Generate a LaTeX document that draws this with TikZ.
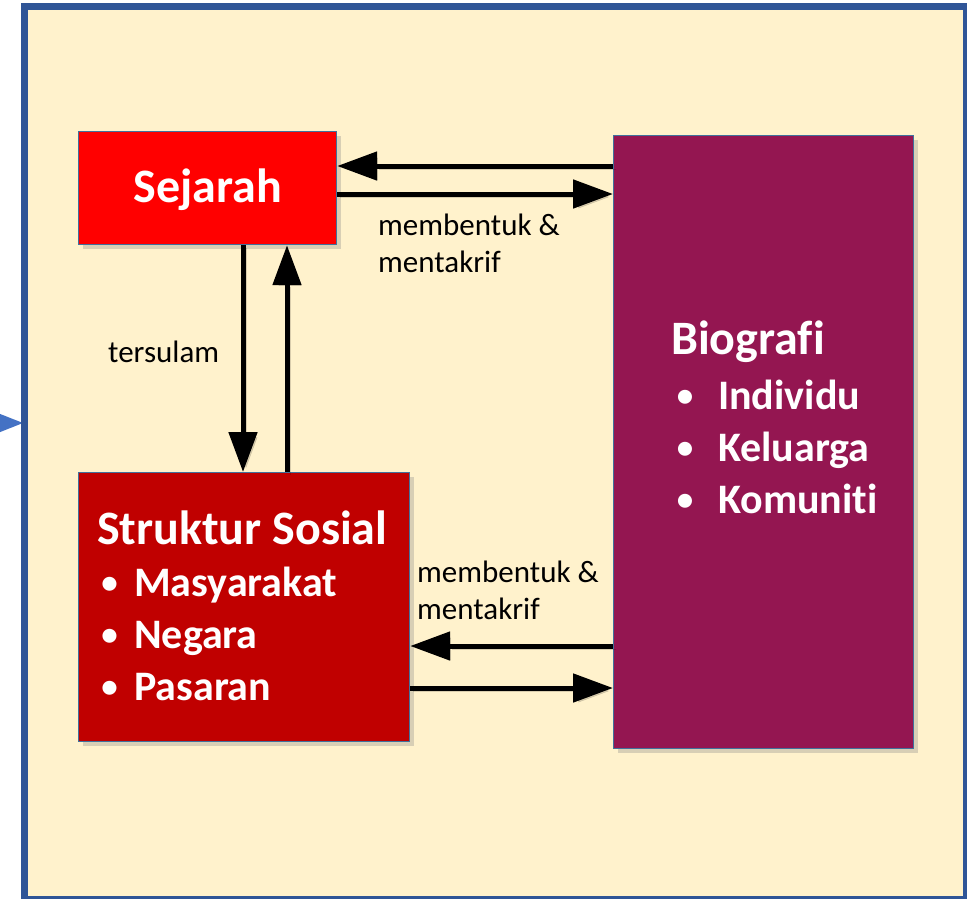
\documentclass[tikz,border=0pt]{standalone}
\usepackage{fontspec}
\setmainfont{Carlito}[Ligatures=NoCommon]
\usepackage{tikz}
\usetikzlibrary{arrows.meta,shadows}
\definecolor{krim}{HTML}{FFF2CC}
\definecolor{biruBingkai}{HTML}{2F5597}
\definecolor{biruGaris}{HTML}{41719C}
\definecolor{biruPanah}{HTML}{4472C4}
\definecolor{merahTerang}{HTML}{FF0000}
\definecolor{merahTua}{HTML}{C00000}
\definecolor{ungu}{HTML}{941651}
\tikzset{
  kotak/.style = {draw=biruGaris, line width=1.2pt, inner sep=0pt,
    text=white, font=\bfseries\fontsize{48}{52}\selectfont,
    drop shadow={shadow xshift=4pt, shadow yshift=-4pt, opacity=0.3}},
  kotak_s/.style = {kotak, fill=merahTerang, text depth=4pt},% sejarah
  kotak_k/.style = {kotak, fill=merahTua},% struktur sosial
  kotak_b/.style = {kotak, fill=ungu},% biografi
  isi/.style = {inner sep=0pt, text=white, align=left,
    font=\bfseries\fontsize{42}{52}\selectfont},% teks dalam kotak
  catatan/.style = {inner sep=0pt, align=left,
    font=\fontsize{31}{37}\selectfont},% label panah
  panah/.style = {->, line width=5pt, black,
    preaction={draw=black, opacity=0.15,
      transform canvas={shift={(3pt,-3pt)}}}}
}
\newcommand{\titik}{\raisebox{3pt}{\fontsize{33}{0}\selectfont\textbullet}}

\begin{document}
\begin{tikzpicture}[x=1pt, y=-1pt, >={Triangle[length=40pt, width=28pt]}]
\useasboundingbox (0,0) rectangle (967,898);
\fill[biruPanah] (-20,406) -- (23,423) -- (-20,440) -- cycle;
\draw[biruBingkai, line width=7pt, fill=krim] (24.5,6.5) rectangle (966.5,899.5);

\node [kotak_s, minimum width=258pt, minimum height=113pt,
  anchor=north west] (sejarah) at (78,131) {Sejarah};
\node [kotak_k, minimum width=331pt, minimum height=269pt,
  anchor=north west] (struktur) at (78,472) {};
\node [kotak_b, minimum width=300pt, minimum height=613pt,
  anchor=north west] (biografi) at (613,135) {};

\node [isi, anchor=north west] (struktur_isi) at (97,511)
  {{\fontsize{48}{52}\selectfont Struktur Sosial}\\
   \makebox[25pt][c]{\titik}\hspace*{12pt}Masyarakat\\
   \makebox[25pt][c]{\titik}\hspace*{12pt}Negara\\
   \makebox[25pt][c]{\titik}\hspace*{12pt}Pasaran};
\node [isi, anchor=north west] (biografi_isi) at (671,321)
  {{\fontsize{48}{52}\selectfont Biografi}\\[3pt]
   \makebox[28pt][c]{\titik}\hspace*{19pt}Individu\\
   \makebox[28pt][c]{\titik}\hspace*{19pt}Keluarga\\
   \makebox[28pt][c]{\titik}\hspace*{19pt}Komuniti};

% sejarah <-> biografi
\draw[panah] (biografi.west |- 0,166) -- (sejarah.east |- 0,166);
\draw[panah] (sejarah.east |- 0,194) -- (biografi.west |- 0,194);
% sejarah <-> struktur sosial
\draw[panah] (sejarah.south -| 243,0) -- (struktur.north -| 243,0);
\draw[panah] (struktur.north -| 287,0) -- (sejarah.south -| 287,0);
% struktur sosial <-> biografi
\draw[panah] (biografi.west |- 0,646) -- (struktur.east |- 0,646);
\draw[panah] (struktur.east |- 0,688) -- (biografi.west |- 0,688);

\node [catatan, anchor=north west] (label_atas) at (378,214)
  {membentuk \&\\mentakrif};
\node [catatan, anchor=north west] (label_bawah) at (417,561)
  {membentuk \&\\mentakrif};
\node [catatan, anchor=base west] (label_kiri) at (108,362) {tersulam};
\end{tikzpicture}
\end{document}
